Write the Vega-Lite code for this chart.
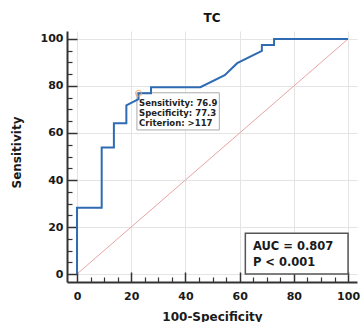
{
  "$schema": "https://vega.github.io/schema/vega-lite/v6.json",
  "width": 290,
  "height": 251,
  "autosize": {"type": "none"},
  "padding": {"left": 67, "top": 31, "right": 4, "bottom": 40},
  "title": {"text": "TC", "font": "DejaVu Sans", "fontSize": 12, "fontWeight": "bold", "color": "#111", "offset": 6, "anchor": "middle"},
  "config": {
    "view": {"stroke": null},
    "axis": {"labelFont": "DejaVu Sans", "titleFont": "DejaVu Sans"}
  },
  "resolve": {"axis": {"x": "independent", "y": "independent"}},
  "layer": [
    {
      "data": {"values": [{"fpr": 0, "sens": 0}, {"fpr": 100, "sens": 100}]},
      "mark": {"type": "line", "color": "#e8a4a4", "strokeWidth": 1},
      "encoding": {
        "x": {"field": "fpr", "type": "quantitative", "scale": {"domain": [-3.7, 103.3], "nice": false, "zero": false},
          "axis": {"orient": "bottom", "offset": -5, "values": [5, 10, 15, 25, 30, 35, 45, 50, 55, 65, 70, 75, 85, 90, 95], "labels": false, "grid": false, "domain": false, "ticks": true, "tickSize": 5, "tickColor": "#333", "tickWidth": 1.2, "title": null}},
        "y": {"field": "sens", "type": "quantitative", "scale": {"domain": [-3.4, 103.4], "nice": false, "zero": false},
          "axis": {"orient": "left", "offset": -5, "values": [5, 10, 15, 25, 30, 35, 45, 50, 55, 65, 70, 75, 85, 90, 95], "labels": false, "grid": false, "domain": false, "ticks": true, "tickSize": 5, "tickColor": "#333", "tickWidth": 1.2, "title": null}}
      }
    },
    {
      "data": {"values": [{"x1": 22.1, "x2": 52.5, "y1": 61.3, "y2": 77.1}]},
      "mark": {"type": "rect", "fill": "white", "stroke": "#aaaaaa", "strokeWidth": 1},
      "encoding": {
        "x": {"field": "x1", "type": "quantitative", "scale": {"domain": [-3.7, 103.3], "nice": false, "zero": false},
          "axis": {"orient": "bottom", "offset": -10, "values": [0, 20, 40, 60, 80, 100], "labels": false, "grid": false, "domain": false, "ticks": true, "tickSize": 10, "tickColor": "#333", "tickWidth": 1.5, "title": null}},
        "x2": {"field": "x2"},
        "y": {"field": "y1", "type": "quantitative", "scale": {"domain": [-3.4, 103.4], "nice": false, "zero": false},
          "axis": {"orient": "left", "offset": -10, "values": [0, 20, 40, 60, 80, 100], "labels": false, "grid": false, "domain": false, "ticks": true, "tickSize": 10, "tickColor": "#333", "tickWidth": 1.5, "title": null}},
        "y2": {"field": "y2"}
      }
    },
    {
      "data": {"values": [{"x1": 62.1, "x2": 100, "y1": 0, "y2": 17.3}]},
      "mark": {"type": "rect", "fill": "white", "stroke": "#555555", "strokeWidth": 1.5},
      "encoding": {
        "x": {"field": "x1", "type": "quantitative", "scale": {"domain": [-3.7, 103.3], "nice": false, "zero": false}, "axis": null},
        "x2": {"field": "x2"},
        "y": {"field": "y1", "type": "quantitative", "scale": {"domain": [-3.4, 103.4], "nice": false, "zero": false}, "axis": null},
        "y2": {"field": "y2"}
      }
    },
    {
      "data": {"values": [
        {"order": 0, "fpr": 0, "sens": 0},
        {"order": 1, "fpr": 0, "sens": 28.2},
        {"order": 2, "fpr": 9.1, "sens": 28.2},
        {"order": 3, "fpr": 9.1, "sens": 53.8},
        {"order": 4, "fpr": 13.6, "sens": 53.8},
        {"order": 5, "fpr": 13.6, "sens": 64.1},
        {"order": 6, "fpr": 18.2, "sens": 64.1},
        {"order": 7, "fpr": 18.2, "sens": 71.8},
        {"order": 8, "fpr": 22.7, "sens": 74.4},
        {"order": 9, "fpr": 22.7, "sens": 76.9},
        {"order": 10, "fpr": 27.3, "sens": 76.9},
        {"order": 11, "fpr": 27.3, "sens": 79.5},
        {"order": 12, "fpr": 45.5, "sens": 79.5},
        {"order": 13, "fpr": 54.5, "sens": 84.6},
        {"order": 14, "fpr": 59.1, "sens": 89.7},
        {"order": 15, "fpr": 68.2, "sens": 94.9},
        {"order": 16, "fpr": 68.2, "sens": 97.4},
        {"order": 17, "fpr": 72.7, "sens": 97.4},
        {"order": 18, "fpr": 72.7, "sens": 100},
        {"order": 19, "fpr": 100, "sens": 100}
      ]},
      "mark": {"type": "line", "color": "#2f6bb3", "strokeWidth": 2},
      "encoding": {
        "order": {"field": "order", "type": "quantitative"},
        "x": {"field": "fpr", "type": "quantitative", "scale": {"domain": [-3.7, 103.3], "nice": false, "zero": false},
          "axis": {"orient": "bottom", "values": [0, 20, 40, 60, 80, 100], "title": "100-Specificity", "grid": true, "gridColor": "#e4e4e4", "gridWidth": 1,
            "domainColor": "#333", "domainWidth": 2, "ticks": false, "labelPadding": 8,
            "labelFontSize": 11, "labelFontWeight": "bold", "labelColor": "#1a1a1a",
            "titleFontSize": 12, "titleFontWeight": "bold", "titleColor": "#1a1a1a", "titleBaseline": "alphabetic", "titleX": 145, "titleY": 38}},
        "y": {"field": "sens", "type": "quantitative", "scale": {"domain": [-3.4, 103.4], "nice": false, "zero": false},
          "axis": {"orient": "left", "values": [0, 20, 40, 60, 80, 100], "title": "Sensitivity", "grid": true, "gridColor": "#e4e4e4", "gridWidth": 1,
            "domainColor": "#333", "domainWidth": 2, "ticks": false, "labelPadding": 4,
            "labelFontSize": 11, "labelFontWeight": "bold", "labelColor": "#1a1a1a",
            "titleFontSize": 12, "titleFontWeight": "bold", "titleColor": "#1a1a1a", "titleBaseline": "middle", "titleX": -51, "titleY": 121, "titleAngle": -90}}
      }
    },
    {
      "data": {"values": [{"fpr": 22.7, "sens": 76.9}]},
      "mark": {"type": "point", "shape": "circle", "filled": false, "stroke": "#f4a25a", "strokeWidth": 1.2, "size": 35},
      "encoding": {
        "x": {"field": "fpr", "type": "quantitative", "scale": {"domain": [-3.7, 103.3], "nice": false, "zero": false}, "axis": null},
        "y": {"field": "sens", "type": "quantitative", "scale": {"domain": [-3.4, 103.4], "nice": false, "zero": false}, "axis": null}
      }
    },
    {
      "data": {"values": [
        {"tx": 22.9, "ty": 71.5, "label": "Sensitivity: 76.9"},
        {"tx": 22.9, "ty": 67.2, "label": "Specificity: 77.3"},
        {"tx": 22.9, "ty": 63.1, "label": "Criterion: >117"}
      ]},
      "mark": {"type": "text", "align": "left", "baseline": "alphabetic", "font": "DejaVu Sans", "fontSize": 8.5, "fontWeight": "bold", "color": "#222"},
      "encoding": {
        "x": {"field": "tx", "type": "quantitative", "scale": {"domain": [-3.7, 103.3], "nice": false, "zero": false}, "axis": null},
        "y": {"field": "ty", "type": "quantitative", "scale": {"domain": [-3.4, 103.4], "nice": false, "zero": false}, "axis": null},
        "text": {"field": "label"}
      }
    },
    {
      "data": {"values": [
        {"tx": 64.9, "ty": 10.2, "label": "AUC = 0.807"},
        {"tx": 64.9, "ty": 3.5, "label": "P < 0.001"}
      ]},
      "mark": {"type": "text", "align": "left", "baseline": "alphabetic", "font": "DejaVu Sans", "fontSize": 11.5, "fontWeight": "bold", "color": "#1a1a1a"},
      "encoding": {
        "x": {"field": "tx", "type": "quantitative", "scale": {"domain": [-3.7, 103.3], "nice": false, "zero": false}, "axis": null},
        "y": {"field": "ty", "type": "quantitative", "scale": {"domain": [-3.4, 103.4], "nice": false, "zero": false}, "axis": null},
        "text": {"field": "label"}
      }
    }
  ]
}
